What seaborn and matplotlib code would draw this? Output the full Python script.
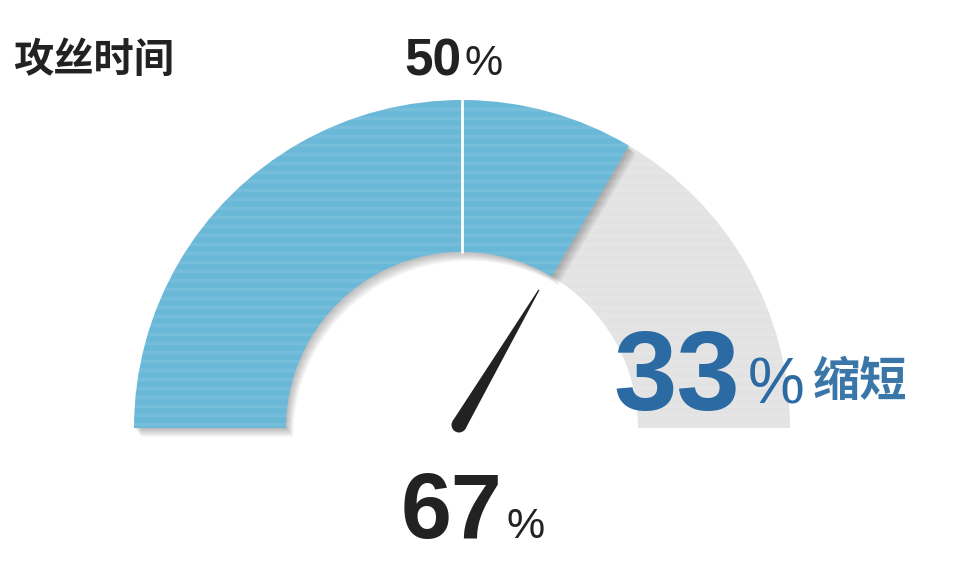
import numpy as np
import seaborn as sns
import matplotlib.pyplot as plt
from matplotlib.patches import Wedge, Polygon, Circle

# gauge data
title = "攻丝时间"
shares = [67, 33]           # % of original tapping time, % reduced
share_labels = ["67", "33"]
mid_mark = 50
reduced_label = "缩短"

sns.set_theme(style="white")
plt.rcParams['font.family'] = ['Liberation Sans', 'Noto Sans CJK SC', 'DejaVu Sans']

blue = "#6ab8d8"
grey = "#e3e3e3"
dark = "#222222"
text_blue = "#2b6aa2"

R_OUT, R_IN = 328, 176

fig = plt.figure(figsize=(9.68, 5.77), dpi=100)
ax = fig.add_axes([0, 0, 1, 1])
ax.set_xlim(-462, 506)
ax.set_ylim(-149, 428)
ax.axis("off")

def pct_to_deg(p):
    return 180 - p / 100 * 180

split = pct_to_deg(shares[0])

# grey remainder
ax.add_patch(Wedge((0, 0), R_OUT, 0, split, width=R_OUT - R_IN, facecolor=grey, edgecolor="none", zorder=1))

# soft drop shadow under the blue part
for i in range(1, 9):
    ax.add_patch(Wedge((i * 0.9, -i * 1.1), R_OUT, split, 180, width=R_OUT - R_IN,
                       facecolor="black", alpha=0.035, edgecolor="none", zorder=2))

# blue share
ax.add_patch(Wedge((0, 0), R_OUT, split, 180, width=R_OUT - R_IN, facecolor=blue, edgecolor="none", zorder=3))

# faint scan-like stripes
for y in np.arange(4, R_OUT, 9):
    ax.axhline(y, color="white", alpha=0.08, lw=2.5, zorder=4)

# white divider at 50%
a50 = np.deg2rad(pct_to_deg(mid_mark))
ax.plot([R_IN * np.cos(a50), R_OUT * np.cos(a50)], [R_IN * np.sin(a50), R_OUT * np.sin(a50)],
        color="white", lw=2, zorder=5)

# needle
a = np.deg2rad(split)
base = np.array([-3.0, 3.0])
u = np.array([np.cos(a), np.sin(a)])
n = np.array([-np.sin(a), np.cos(a)])
tip = base + u * 157
w = 7.5
ax.add_patch(Polygon([base + n * w, tip + n * 0.6, tip - n * 0.6, base - n * w],
                     closed=True, facecolor=dark, edgecolor="none", zorder=6))
ax.add_patch(Circle(base, w, facecolor=dark, edgecolor="none", zorder=6))

# texts
ax.text(-449, 368, title, family=['Noto Sans CJK SC'], fontsize=29, fontweight="bold",
        color=dark, ha="left", va="center")

ax.text(0, 353, str(mid_mark), fontsize=37, fontweight="bold", color=dark, ha="right", va="baseline")
ax.text(2, 353, "%", fontsize=31, color=dark, ha="left", va="baseline")

ax.text(278, 18, share_labels[1], fontsize=82, fontweight="bold", color=text_blue, ha="right", va="baseline", zorder=7)
ax.text(286, 25, "%", fontsize=46, color=text_blue, ha="left", va="baseline", zorder=7)
ax.text(351, 46, reduced_label, family=['Noto Sans CJK SC'], fontsize=34, fontweight="bold",
        color="#3a76a8", ha="left", va="center", zorder=7)

ax.text(40, -110, share_labels[0], fontsize=66, fontweight="bold", color=dark, ha="right", va="baseline")
ax.text(45, -110, "%", fontsize=31, color=dark, ha="left", va="baseline")

fig.savefig("out.png", dpi=100)
